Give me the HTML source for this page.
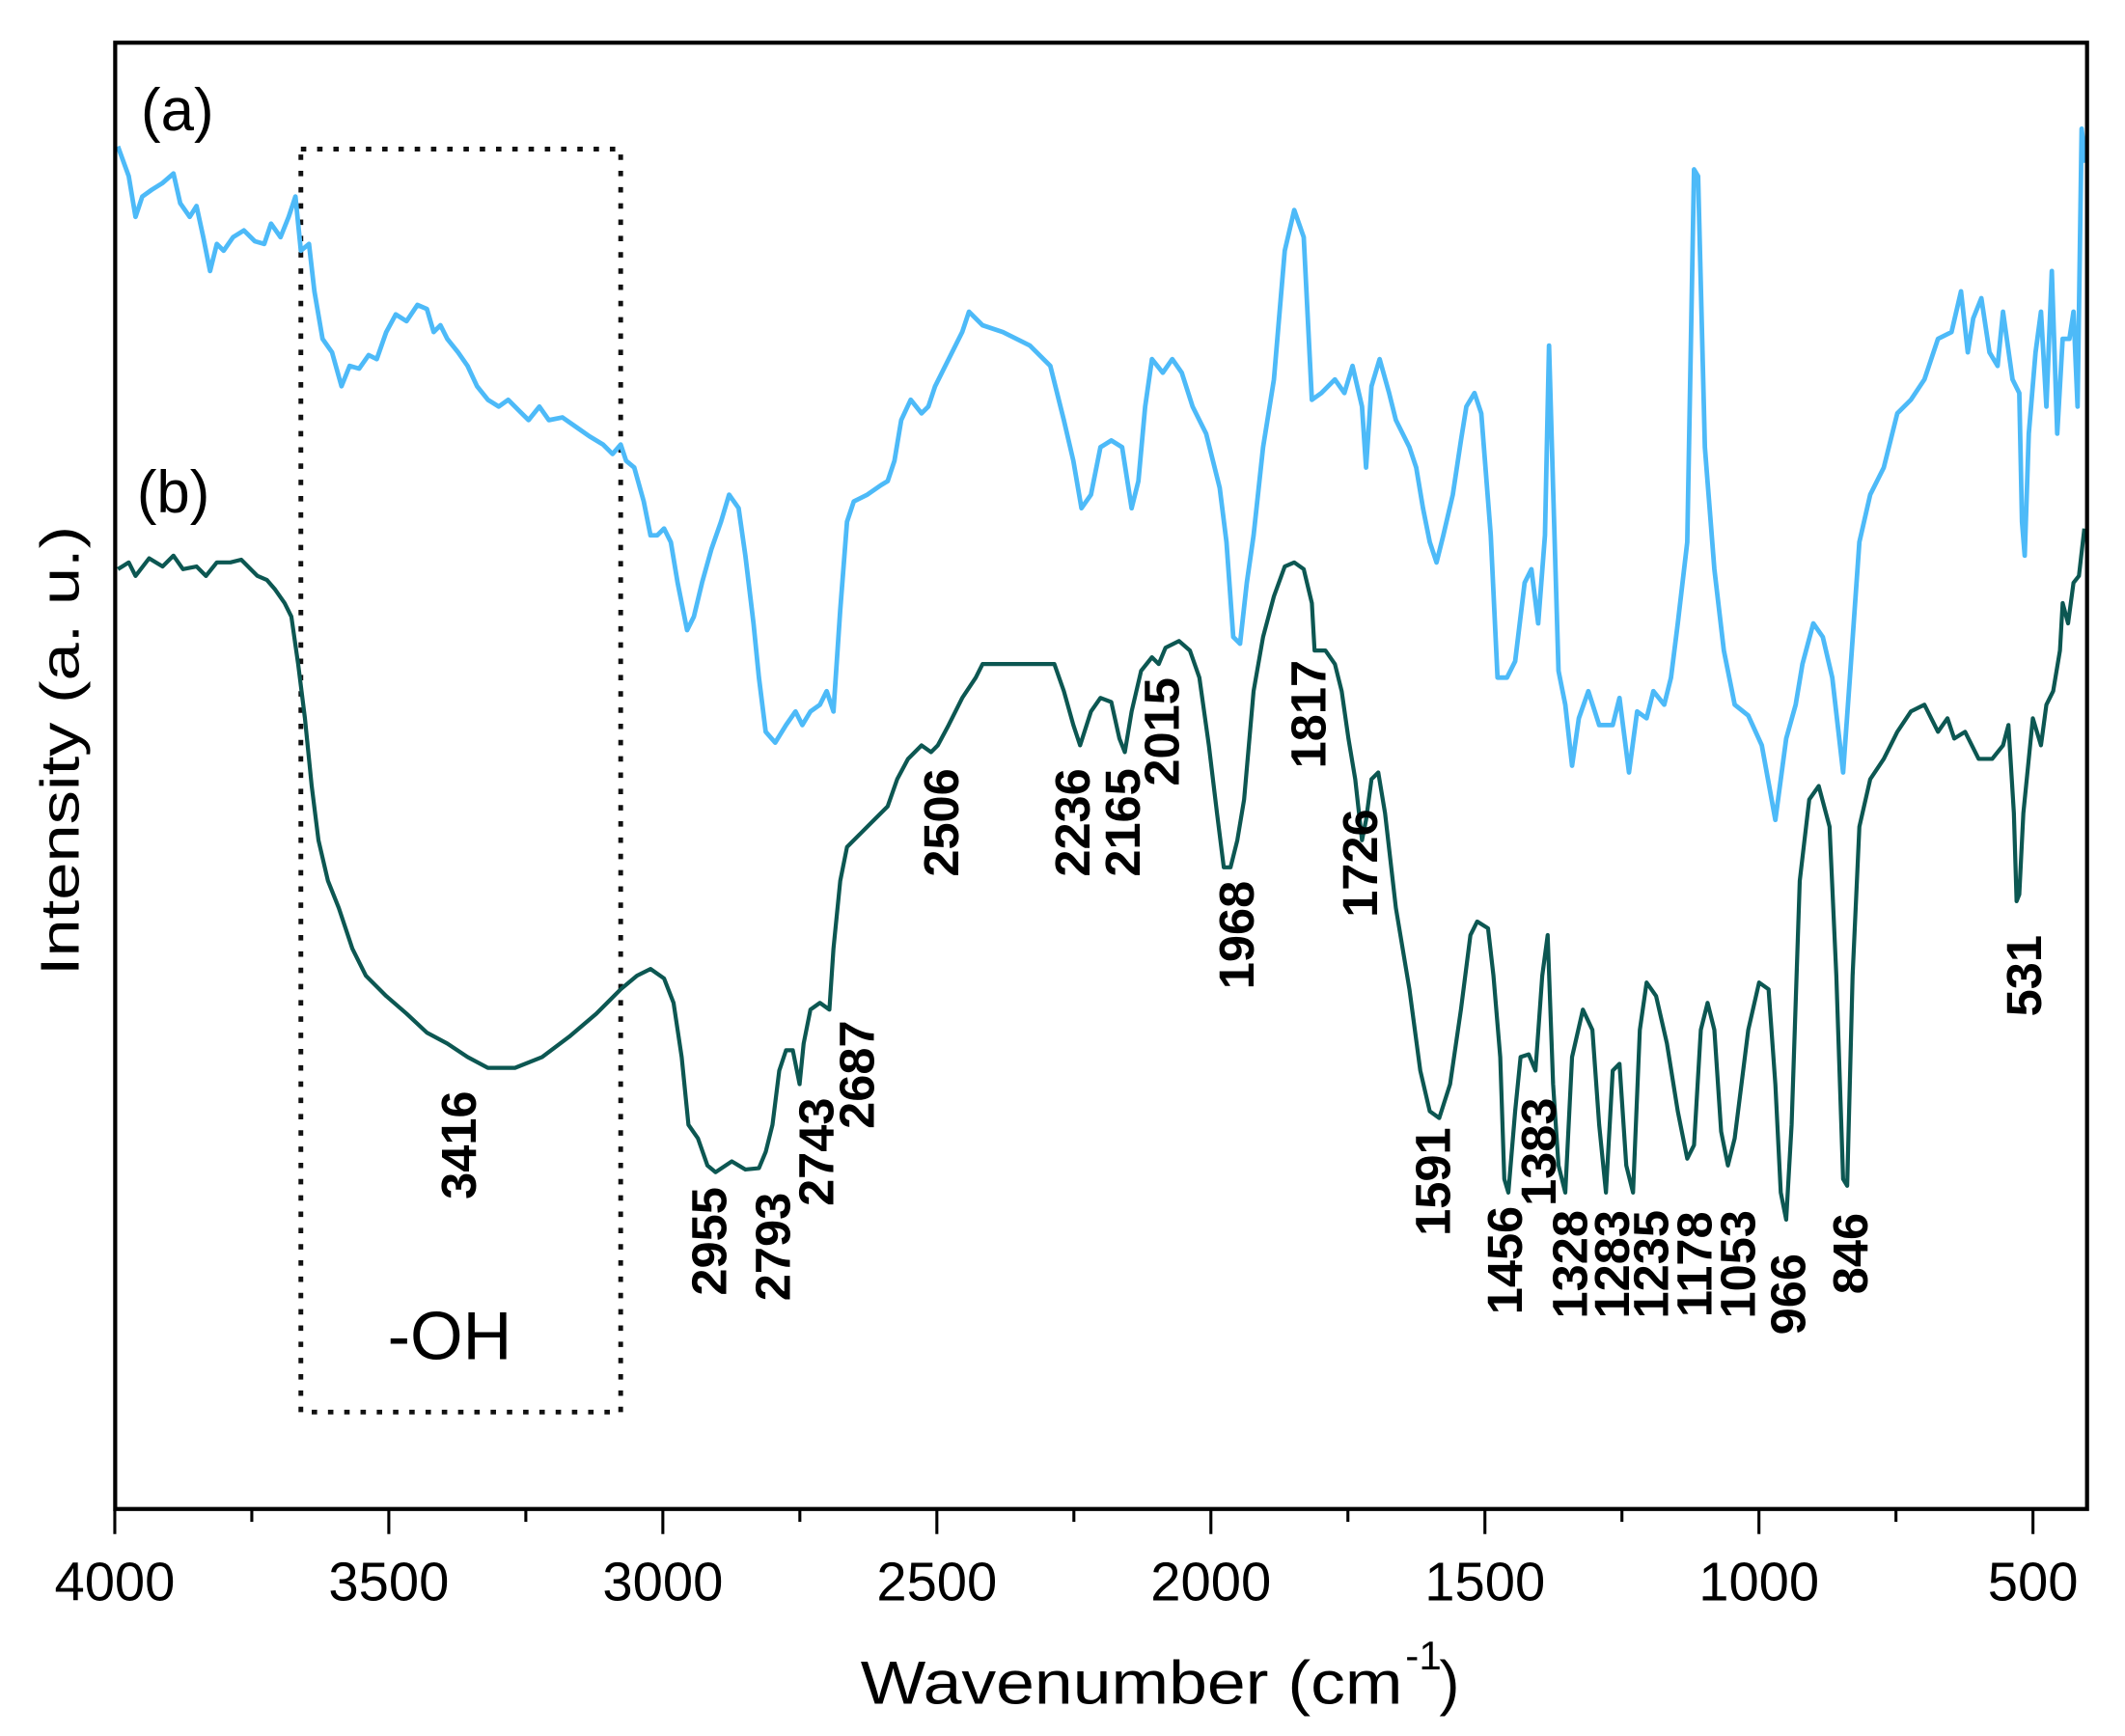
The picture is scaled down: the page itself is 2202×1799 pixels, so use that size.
<!DOCTYPE html>
<html><head><meta charset="utf-8"><style>
html,body{margin:0;padding:0;background:#fff;}
svg{display:block;}
text{font-family:"Liberation Sans",Arial,sans-serif;fill:#000;}
.pk{font-weight:bold;font-size:36px;}
</style></head><body>
<svg width="2202" height="1799" viewBox="0 0 1568 1281" xmlns="http://www.w3.org/2000/svg">
<rect x="0" y="0" width="1568" height="1281" fill="#fff"/>
<rect x="222" y="110" width="236" height="932" fill="none" stroke="#111" stroke-width="3.5" stroke-dasharray="4,8"/>
<polyline fill="none" stroke="#4dbaf8" stroke-width="3.4" stroke-linejoin="round" points="87,108 95,130 100,160 105,145 112,140 120,135 128,128 133,150 140,160 145,152 150,175 155,200 160,180 165,185 172,175 180,170 188,178 195,180 200,165 207,175 213,160 218,145 222,185 228,180 232,215 238,250 245,260 252,285 258,270 265,272 272,262 278,265 285,245 292,232 300,237 308,225 315,228 320,245 325,240 330,250 338,260 345,270 352,285 360,295 368,300 375,295 382,302 390,310 398,300 405,310 415,308 425,315 435,322 445,328 452,335 458,328 462,340 468,345 475,370 480,395 485,395 490,390 495,400 500,430 507,465 512,455 518,430 525,405 532,385 538,365 545,375 550,410 556,460 560,500 565,540 572,548 580,535 587,525 592,535 598,525 605,520 610,510 615,525 620,450 625,385 630,370 640,365 650,358 655,355 660,340 665,310 672,295 680,305 685,300 690,285 700,265 710,245 715,230 725,240 740,245 760,255 775,270 785,310 792,340 798,375 805,365 812,330 820,325 828,330 835,375 840,355 845,300 850,265 858,275 865,265 872,275 880,300 890,320 900,360 905,400 910,470 915,475 920,430 925,395 932,330 940,280 948,185 955,155 962,175 968,295 975,290 985,280 992,290 998,270 1005,300 1008,345 1012,285 1018,265 1025,290 1030,310 1040,330 1045,345 1050,375 1055,400 1060,415 1065,395 1072,365 1078,325 1082,300 1088,290 1093,305 1100,395 1105,500 1112,500 1118,488 1125,430 1130,420 1135,460 1140,395 1143,255 1146,360 1150,495 1155,520 1160,565 1165,530 1172,510 1180,535 1190,535 1195,515 1202,570 1208,525 1215,530 1220,510 1228,520 1233,500 1238,460 1245,400 1250,125 1253,130 1258,330 1265,420 1272,480 1280,520 1290,528 1300,550 1310,605 1318,545 1325,520 1330,490 1338,460 1345,470 1352,500 1360,570 1365,500 1372,400 1380,365 1390,345 1400,305 1410,295 1420,280 1430,250 1440,245 1447,215 1452,260 1456,235 1462,220 1468,260 1474,270 1478,230 1485,280 1490,290 1492,385 1494,410 1497,320 1502,260 1506,230 1510,300 1514,200 1518,320 1522,250 1527,250 1530,230 1533,300 1536,95 1539,120"/>
<polyline fill="none" stroke="#0c5752" stroke-width="3" stroke-linejoin="round" points="87,420 95,415 100,425 110,412 120,418 128,410 135,420 145,418 152,425 160,415 170,415 178,413 185,420 190,425 197,428 203,435 210,445 215,455 220,490 225,530 230,580 235,620 242,650 250,670 260,700 270,720 285,735 300,748 315,762 330,770 345,780 360,788 380,788 400,780 420,765 440,748 458,730 470,720 480,715 490,722 497,740 503,780 508,830 515,840 522,860 528,865 540,857 550,863 560,862 565,850 570,830 575,790 580,775 585,775 590,800 593,770 598,745 605,740 612,745 615,700 620,650 625,625 635,615 645,605 655,595 662,575 670,560 680,550 687,555 692,550 700,535 710,515 720,500 725,490 735,490 760,490 778,490 785,510 792,535 797,550 805,525 812,515 820,518 826,545 830,555 835,525 842,495 850,485 855,490 860,478 870,473 878,480 885,500 892,550 898,600 903,640 908,640 913,620 918,590 925,510 932,470 940,440 948,418 955,415 962,420 968,445 970,480 978,480 985,490 990,510 995,545 1000,575 1005,620 1008,605 1012,575 1017,570 1022,600 1030,670 1040,730 1048,790 1055,820 1062,825 1070,800 1078,745 1085,690 1090,680 1098,685 1102,720 1107,780 1110,870 1113,880 1118,820 1122,780 1128,778 1133,790 1138,720 1142,690 1146,800 1150,860 1155,880 1160,780 1168,745 1175,760 1180,830 1185,880 1190,790 1195,785 1200,860 1205,880 1210,760 1215,725 1222,735 1230,770 1238,820 1245,855 1250,845 1255,760 1260,740 1265,760 1270,835 1275,860 1280,840 1285,800 1290,760 1298,725 1305,730 1310,800 1314,880 1318,900 1322,830 1328,650 1335,590 1342,580 1350,610 1355,720 1360,870 1363,875 1367,720 1372,610 1380,575 1390,560 1400,540 1410,525 1420,520 1430,540 1437,530 1442,545 1450,540 1460,560 1470,560 1478,550 1482,535 1486,600 1488,665 1490,660 1493,600 1497,560 1500,530 1506,550 1510,520 1515,510 1520,480 1522,445 1526,460 1530,430 1534,425 1538,390"/>
<rect x="85" y="31.5" width="1455" height="1082" fill="none" stroke="#000" stroke-width="3"/>
<g stroke="#000" stroke-width="2.2">
<line x1="84.7" y1="1114" x2="84.7" y2="1132"/><line x1="185.8" y1="1114" x2="185.8" y2="1123"/>
<line x1="286.9" y1="1114" x2="286.9" y2="1132"/><line x1="388" y1="1114" x2="388" y2="1123"/>
<line x1="489.1" y1="1114" x2="489.1" y2="1132"/><line x1="590.2" y1="1114" x2="590.2" y2="1123"/>
<line x1="691.3" y1="1114" x2="691.3" y2="1132"/><line x1="792.4" y1="1114" x2="792.4" y2="1123"/>
<line x1="893.5" y1="1114" x2="893.5" y2="1132"/><line x1="994.6" y1="1114" x2="994.6" y2="1123"/>
<line x1="1095.7" y1="1114" x2="1095.7" y2="1132"/><line x1="1196.8" y1="1114" x2="1196.8" y2="1123"/>
<line x1="1297.9" y1="1114" x2="1297.9" y2="1132"/><line x1="1399" y1="1114" x2="1399" y2="1123"/>
<line x1="1500.1" y1="1114" x2="1500.1" y2="1132"/>
</g>
<g font-size="40" text-anchor="middle">
<text x="84.7" y="1181">4000</text><text x="286.9" y="1181">3500</text><text x="489.1" y="1181">3000</text>
<text x="691.3" y="1181">2500</text><text x="893.5" y="1181">2000</text><text x="1095.7" y="1181">1500</text>
<text x="1297.9" y="1181">1000</text><text x="1500.1" y="1181">500</text>
</g>
<text x="635" y="1257" font-size="45" textLength="400" lengthAdjust="spacingAndGlyphs">Wavenumber (cm</text>
<text x="1037" y="1232" font-size="30">-1</text>
<text x="1062" y="1257" font-size="45">)</text>
<text transform="translate(58,554) rotate(-90)" text-anchor="middle" font-size="40" textLength="332" lengthAdjust="spacingAndGlyphs">Intensity (a. u.)</text>
<text x="104" y="96" font-size="44">(a)</text>
<text x="101" y="378" font-size="44">(b)</text>
<text x="286" y="1003" font-size="50">-OH</text>
<g class="pk" text-anchor="middle">
<text transform="translate(338,845) rotate(-90)" dy="0.36em">3416</text>
<text transform="translate(523,916) rotate(-90)" dy="0.36em">2955</text>
<text transform="translate(570,920) rotate(-90)" dy="0.36em">2793</text>
<text transform="translate(602,850) rotate(-90)" dy="0.36em">2743</text>
<text transform="translate(632,793) rotate(-90)" dy="0.36em">2687</text>
<text transform="translate(694,607) rotate(-90)" dy="0.36em">2506</text>
<text transform="translate(791,607) rotate(-90)" dy="0.36em">2236</text>
<text transform="translate(828,607) rotate(-90)" dy="0.36em">2165</text>
<text transform="translate(857,540) rotate(-90)" dy="0.36em">2015</text>
<text transform="translate(912,690) rotate(-90)" dy="0.36em">1968</text>
<text transform="translate(965,527) rotate(-90)" dy="0.36em">1817</text>
<text transform="translate(1003,637) rotate(-90)" dy="0.36em">1726</text>
<text transform="translate(1057,872) rotate(-90)" dy="0.36em">1591</text>
<text transform="translate(1110,930) rotate(-90)" dy="0.36em">1456</text>
<text transform="translate(1135,850) rotate(-90)" dy="0.36em">1383</text>
<text transform="translate(1158,933) rotate(-90)" dy="0.36em">1328</text>
<text transform="translate(1189,933) rotate(-90)" dy="0.36em">1283</text>
<text transform="translate(1218,933) rotate(-90)" dy="0.36em">1235</text>
<text transform="translate(1250,933) rotate(-90)" dy="0.36em">1178</text>
<text transform="translate(1282,933) rotate(-90)" dy="0.36em">1053</text>
<text transform="translate(1319,955) rotate(-90)" dy="0.36em">966</text>
<text transform="translate(1365,925) rotate(-90)" dy="0.36em">846</text>
<text transform="translate(1493,720) rotate(-90)" dy="0.36em">531</text>
</g>
</svg>
</body></html>
